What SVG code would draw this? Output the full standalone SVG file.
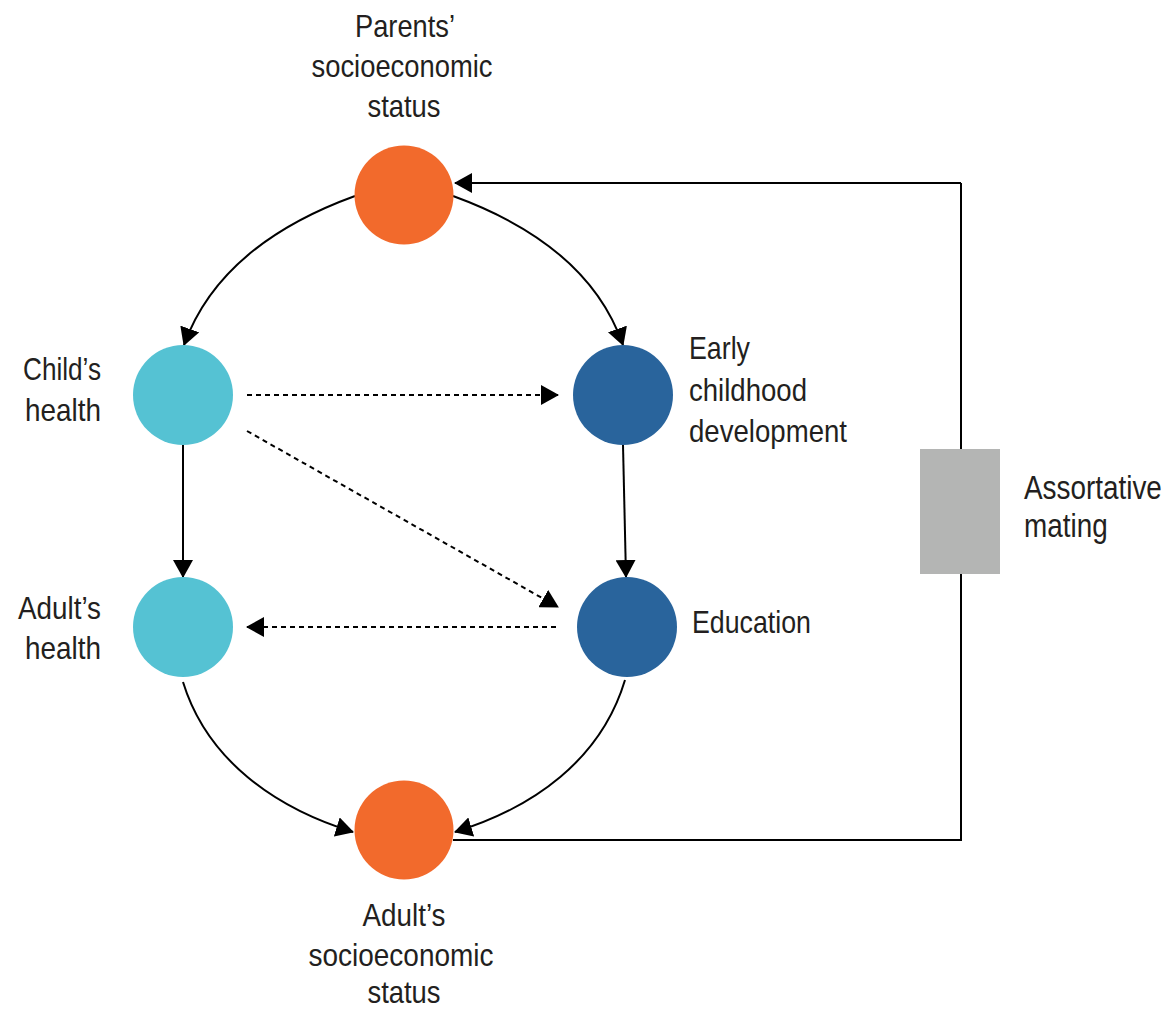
<svg xmlns="http://www.w3.org/2000/svg" width="1170" height="1012" viewBox="0 0 1170 1012">
<defs>
<marker id="ah" markerUnits="userSpaceOnUse" markerWidth="18" markerHeight="20" refX="17" refY="10" orient="auto">
<path d="M0,0 L18,10 L0,20 z" fill="#000"/>
</marker>
<style>
.lbl{font-family:"Liberation Sans",Arial,sans-serif;font-size:32px;fill:#231f20;}
.big{font-size:34px;}
.c{text-anchor:middle;}
.line{fill:none;stroke:#000;stroke-width:2;}
.dash{fill:none;stroke:#000;stroke-width:2;stroke-dasharray:5 4;}
.arr{marker-end:url(#ah);}
</style>
</defs>
<rect width="1170" height="1012" fill="#fff"/>
<g id="connectors">
<path class="line arr" d="M961,183 L455,183"/>
<path class="line" d="M961,183 L961,449"/>
<path class="line" d="M961,574 L961,840 L453,840"/>
<path class="line arr" d="M453,196 C530,224 597,270 623,345"/>
<path class="line arr" d="M355,196 C278,224 211,270 184,345"/>
<path class="line arr" d="M183,445 L183,577"/>
<path class="line arr" d="M623,445 L626,577"/>
<path class="line arr" d="M183,682 C207,760 275,808 353,832"/>
<path class="line arr" d="M625,680 C601,760 533,808 455,832"/>
<path class="dash arr" d="M247,395 L558,395"/>
<path class="dash arr" d="M247,431 L558,607"/>
<path class="dash arr" d="M556,627 L247,627"/>
</g>
<g id="parents-ses">
<circle cx="404" cy="195" r="49.5" fill="#f26a2c"/>
<text class="lbl c" x="405" y="37" textLength="100" lengthAdjust="spacingAndGlyphs">Parents’</text>
<text class="lbl c" x="402" y="77" textLength="181" lengthAdjust="spacingAndGlyphs">socioeconomic</text>
<text class="lbl c" x="404" y="117" textLength="73" lengthAdjust="spacingAndGlyphs">status</text>
</g>
<g id="childs-health">
<circle cx="183" cy="395" r="50" fill="#55c2d3"/>
<text class="lbl" x="23" y="380" textLength="78" lengthAdjust="spacingAndGlyphs">Child’s</text>
<text class="lbl" x="25" y="421" textLength="76" lengthAdjust="spacingAndGlyphs">health</text>
</g>
<g id="early-childhood">
<circle cx="623" cy="395" r="50" fill="#29649c"/>
<text class="lbl" x="689" y="359" textLength="61" lengthAdjust="spacingAndGlyphs">Early</text>
<text class="lbl" x="689" y="401" textLength="118" lengthAdjust="spacingAndGlyphs">childhood</text>
<text class="lbl" x="689" y="442" textLength="158" lengthAdjust="spacingAndGlyphs">development</text>
</g>
<g id="adults-health">
<circle cx="183" cy="627" r="50" fill="#55c2d3"/>
<text class="lbl" x="18" y="619" textLength="83" lengthAdjust="spacingAndGlyphs">Adult’s</text>
<text class="lbl" x="25" y="659" textLength="76" lengthAdjust="spacingAndGlyphs">health</text>
</g>
<g id="education">
<circle cx="627" cy="627" r="50" fill="#29649c"/>
<text class="lbl" x="692" y="633" textLength="119" lengthAdjust="spacingAndGlyphs">Education</text>
</g>
<g id="adults-ses">
<circle cx="404" cy="830" r="49.5" fill="#f26a2c"/>
<text class="lbl c" x="404" y="926" textLength="83" lengthAdjust="spacingAndGlyphs">Adult’s</text>
<text class="lbl c" x="401" y="966" textLength="185" lengthAdjust="spacingAndGlyphs">socioeconomic</text>
<text class="lbl c" x="404" y="1003" textLength="73" lengthAdjust="spacingAndGlyphs">status</text>
</g>
<g id="assortative-mating">
<rect x="920" y="449" width="80" height="125" fill="#b4b5b4"/>
<text class="lbl big" transform="translate(1024,499) scale(0.82,1)" x="0" y="0">Assortative</text>
<text class="lbl big" transform="translate(1024,537) scale(0.82,1)" x="0" y="0">mating</text>
</g>
</svg>
